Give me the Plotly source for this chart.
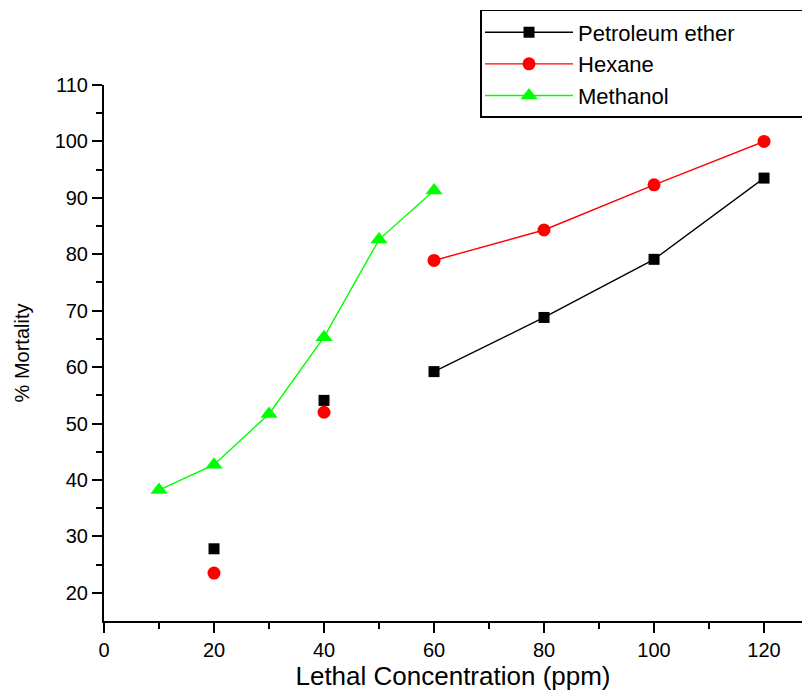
import plotly.graph_objects as go

# Data
conc_pe = [20, 40, 60, 80, 100, 120]
mort_pe = [27.8, 54.1, 59.2, 68.8, 79.1, 93.5]

conc_hex = [20, 40, 60, 80, 100, 120]
mort_hex = [23.5, 52.0, 78.9, 84.3, 92.3, 100.0]

conc_meth = [10, 20, 30, 40, 50, 60]
mort_meth = [38.2, 42.7, 51.7, 65.3, 82.6, 91.3]

# first two points of PE and Hexane are unconnected
n_isolated = 2

FONT = "Arial, Liberation Sans, sans-serif"

fig = go.Figure()

series = [
    ("Petroleum ether", conc_pe, mort_pe, "#000000", "square", 11, n_isolated),
    ("Hexane", conc_hex, mort_hex, "#FF0000", "circle", 13, n_isolated),
    ("Methanol", conc_meth, mort_meth, "#00FF00", "triangle-up", 15, 0),
]

for name, xs, ys, col, sym, sz, iso in series:
    fig.add_trace(go.Scatter(
        x=xs[iso:], y=ys[iso:], mode="lines+markers", name=name,
        legendgroup=name,
        line=dict(color=col, width=1.4),
        marker=dict(color=col, symbol=sym, size=sz, line=dict(width=0)),
    ))
    if iso:
        fig.add_trace(go.Scatter(
            x=xs[:iso], y=ys[:iso], mode="markers", name=name,
            legendgroup=name, showlegend=False,
            marker=dict(color=col, symbol=sym, size=sz, line=dict(width=0)),
        ))

axis_common = dict(
    showline=True, linecolor="black", linewidth=2,
    ticks="outside", ticklen=10, tickwidth=2, tickcolor="black",
    showgrid=False, zeroline=False,
    tickfont=dict(family=FONT, size=20, color="black"),
)

fig.update_xaxes(
    range=[0, 126.9], tick0=0, dtick=20,
    minor=dict(ticks="outside", ticklen=6, tickwidth=2, tickcolor="black", dtick=10, tick0=0),
    title=dict(text="Lethal Concentration (ppm)", font=dict(family=FONT, size=26, color="black"), standoff=14),
    **axis_common,
)
fig.update_yaxes(
    range=[15, 110], tickvals=[20, 30, 40, 50, 60, 70, 80, 90, 100, 110],
    minor=dict(ticks="outside", ticklen=6, tickwidth=2, tickcolor="black", tickvals=[25, 35, 45, 55, 65, 75, 85, 95, 105]),
    title=dict(text="% Mortality", font=dict(family=FONT, size=20, color="black"), standoff=20),
    **axis_common,
)

# page body has an 8px margin: figure is offset by (8, 8) in the window
fig.update_layout(
    width=794, height=683,
    margin=dict(l=96, r=0, t=77, b=70, autoexpand=False),
    plot_bgcolor="white", paper_bgcolor="white",
    font=dict(family=FONT, color="black"),
    legend=dict(
        orientation="h",
        x=0.5387, y=1.14, xanchor="left", yanchor="top",
        bordercolor="black", borderwidth=1.5, bgcolor="white",
        font=dict(family=FONT, size=22, color="black"),
        itemwidth=88, tracegroupgap=0,
        entrywidth=292, entrywidthmode="pixels",
    ),
    showlegend=True,
)

fig.write_html("out.html")
